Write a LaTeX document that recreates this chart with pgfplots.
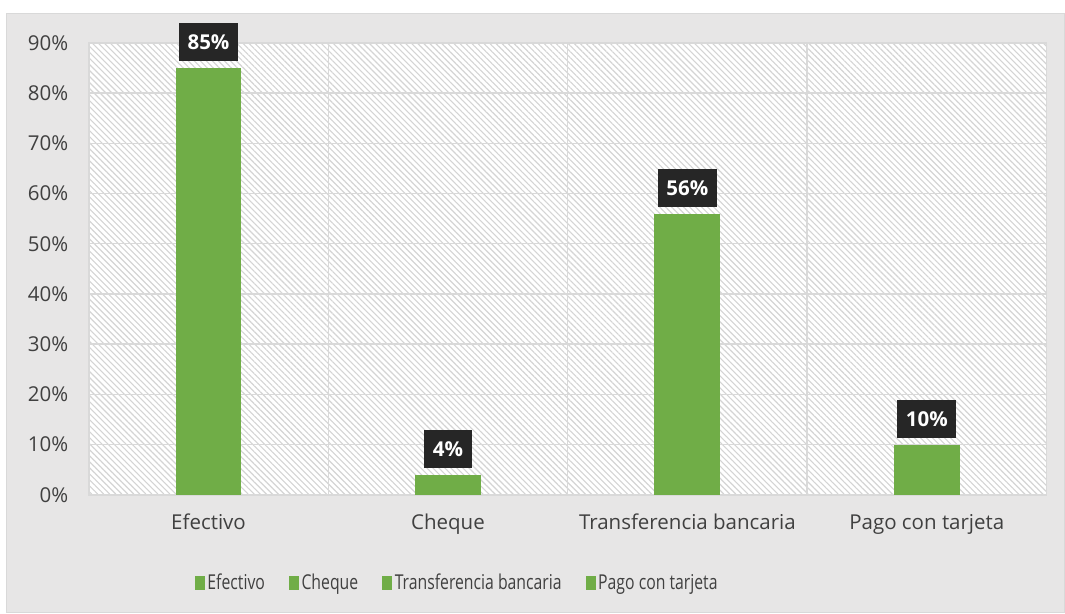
\documentclass[border=0pt]{standalone}
\usepackage{fontspec}
\setmainfont{Open Sans}
\usepackage{graphicx}
\usepackage{pgfplots}
\pgfplotsset{compat=1.18}
\usetikzlibrary{patterns.meta}

\definecolor{barg}{HTML}{70AD47}
\definecolor{gridc}{HTML}{D9D9D9}
\definecolor{hatchc}{HTML}{D4D4D4}
\definecolor{outerbg}{HTML}{E7E6E6}
\definecolor{lblbg}{HTML}{262626}
\definecolor{txt}{HTML}{404040}

\newcommand{\lbfont}{\fontsize{15.4}{18}\selectfont}

\begin{document}
\begin{tikzpicture}[x=0.75pt,y=0.75pt]
% page and outer chart area (1 unit = 1 px of the reference)
\fill[white] (-89,-117) rectangle (976,496);
\filldraw[fill=outerbg, draw=gridc, line width=0.75pt] (-82,-118) rectangle (978,482);
\useasboundingbox (-89,-117) rectangle (976,496);

\begin{axis}[
    scale only axis,
    width=720pt, height=339.75pt,
    xmin=0, xmax=4, ymin=0, ymax=90,
    xtick={0.5,1.5,2.5,3.5},
    xticklabels={Efectivo,Cheque,Transferencia bancaria,Pago con tarjeta},
    minor xtick={1,2,3},
    xminorgrids, ymajorgrids,
    ytick={0,10,...,90},
    major tick length=0pt, minor tick length=0pt,
    grid style={gridc, line width=1.1pt},
    minor grid style={gridc, line width=1.1pt},
    axis line style={gridc, line width=1.1pt},
    axis background/.style={fill=white,
        postaction={pattern={Lines[angle=-45,distance=3.2pt,line width=0.85pt]}, pattern color=hatchc}},
    /pgf/number format/assume math mode=true,
    yticklabel={\pgfmathprintnumber{\tick}\%},
    tick label style={font=\lbfont, text=txt},
    yticklabel style={xshift=-12pt},
    xticklabel style={yshift=-11pt},
    ybar, bar width=49.5pt, bar shift=0pt,
    nodes near coords={\pgfmathprintnumber{\pgfplotspointmeta}\%},
    every node near coord/.style={anchor=south, yshift=5pt, fill=lblbg, text=white,
        font=\bfseries\lbfont, minimum height=28.5pt, inner xsep=6.4pt, inner ysep=0pt},
    legend style={at={(0.385,-0.195)}, anchor=center, draw=none, fill=none,
        legend columns=-1, font=\lbfont, text=txt,
        nodes={inner xsep=2pt},
        /tikz/every even column/.append style={column sep=16pt}},
    legend image code/.code={\fill[barg] (0pt,-5.25pt) rectangle (7.5pt,5.25pt);},
]
\addplot[fill=barg, draw=none] coordinates {(0.5,85)};
\addlegendentry{\scalebox{0.77}[1]{Efectivo}}
\addplot[fill=barg, draw=none] coordinates {(1.5,4)};
\addlegendentry{\scalebox{0.77}[1]{Cheque}}
\addplot[fill=barg, draw=none] coordinates {(2.5,56)};
\addlegendentry{\scalebox{0.77}[1]{Transferencia bancaria}}
\addplot[fill=barg, draw=none] coordinates {(3.5,10)};
\addlegendentry{\scalebox{0.77}[1]{Pago con tarjeta}}
\end{axis}
\end{tikzpicture}
\end{document}
